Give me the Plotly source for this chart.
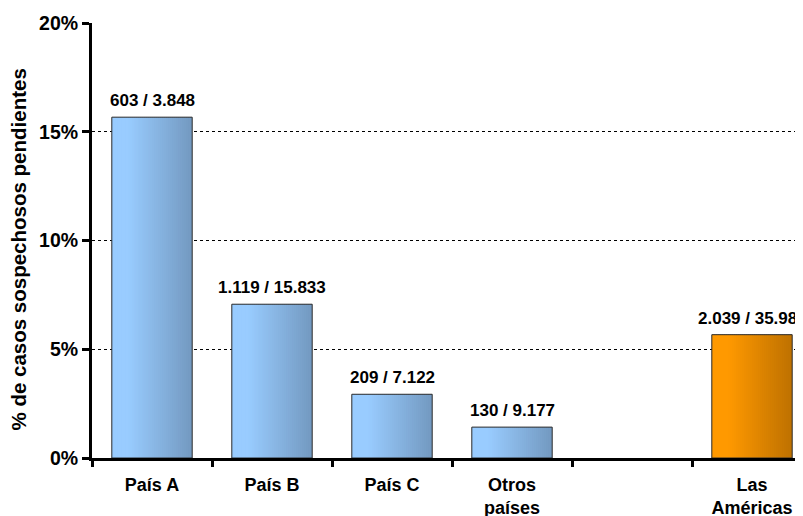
import plotly.graph_objects as go

categories = ["País A", "País B", "País C", "Otros<br>países", " ", "Las<br>Américas"]
pct_values = [15.67, 7.07, 2.93, 1.42, None, 5.67]
labels = ["603 / 3.848", "1.119 / 15.833", "209 / 7.122", "130 / 9.177", "", "2.039 / 35.980"]
is_total = [False, False, False, False, False, True]
y_title = "% de casos sospechosos pendientes"

FONT = "Liberation Sans, Arial, sans-serif"
BAR_W = 0.67
N = 40

blue_l, blue_d = (153, 204, 255), (115, 153, 192)
orng_l, orng_d = (255, 153, 0), (190, 113, 0)


def mix(a, b, t):
    return "rgb(%d,%d,%d)" % tuple(round(a[k] + (b[k] - a[k]) * t) for k in range(3))


def prof(t):
    if t < 0.2:
        return 0.0
    return (t - 0.2) / 0.8


fig = go.Figure()
w = BAR_W / N
for i in range(N):
    t = prof((i + 0.5) / N)
    cols = [mix(orng_l, orng_d, t) if tot else mix(blue_l, blue_d, t) for tot in is_total]
    ww = w * 1.6 if i < N - 1 else w
    fig.add_trace(go.Bar(
        x=categories, y=pct_values, width=ww, offset=-BAR_W / 2 + i * w,
        marker=dict(color=cols, line=dict(width=0)),
        showlegend=False, hoverinfo="skip",
    ))

fig.add_trace(go.Bar(
    x=categories, y=pct_values, width=BAR_W, offset=-BAR_W / 2,
    marker=dict(color="rgba(0,0,0,0)", line=dict(color="#2a2a2a", width=1)),
    showlegend=False,
))

for c, v, lab in zip(categories, pct_values, labels):
    if v is None:
        continue
    fig.add_annotation(x=c, y=v, text=lab, showarrow=False, yanchor="bottom", yshift=5,
                       font=dict(family=FONT, size=17, color="black", weight="bold"))

fig.add_annotation(xref="paper", yref="paper", x=0, y=0.5, xanchor="center", yanchor="middle",
                   xshift=-74, yshift=-9, textangle=-90, text=y_title, showarrow=False,
                   font=dict(family=FONT, size=20.5, color="black", weight="bold"))

fig.update_layout(
    width=795, height=508,
    margin=dict(l=84, r=0, t=15, b=58),
    plot_bgcolor="white", paper_bgcolor="white",
    barmode="overlay",
    font=dict(family=FONT, color="black"),
    xaxis=dict(
        type="category", range=[-0.5, 5.425], automargin=False,
        showline=True, linecolor="black", linewidth=3,
        ticks="outside", tickson="boundaries", ticklen=6, tickwidth=2.5, tickcolor="black",
        tickfont=dict(family=FONT, size=18, weight="bold", color="black"),
        ticklabelstandoff=8,
        showgrid=False,
    ),
    yaxis=dict(
        range=[0, 20], dtick=5, ticksuffix="%", automargin=False,
        showline=True, linecolor="black", linewidth=3,
        ticks="outside", ticklen=7, tickwidth=2.5, tickcolor="black",
        tickfont=dict(family=FONT, size=19.5, weight="bold", color="black"),
        showgrid=True, gridcolor="black", gridwidth=1, griddash="dot",
        zeroline=False,
    ),
)

fig.write_html("out.html")
